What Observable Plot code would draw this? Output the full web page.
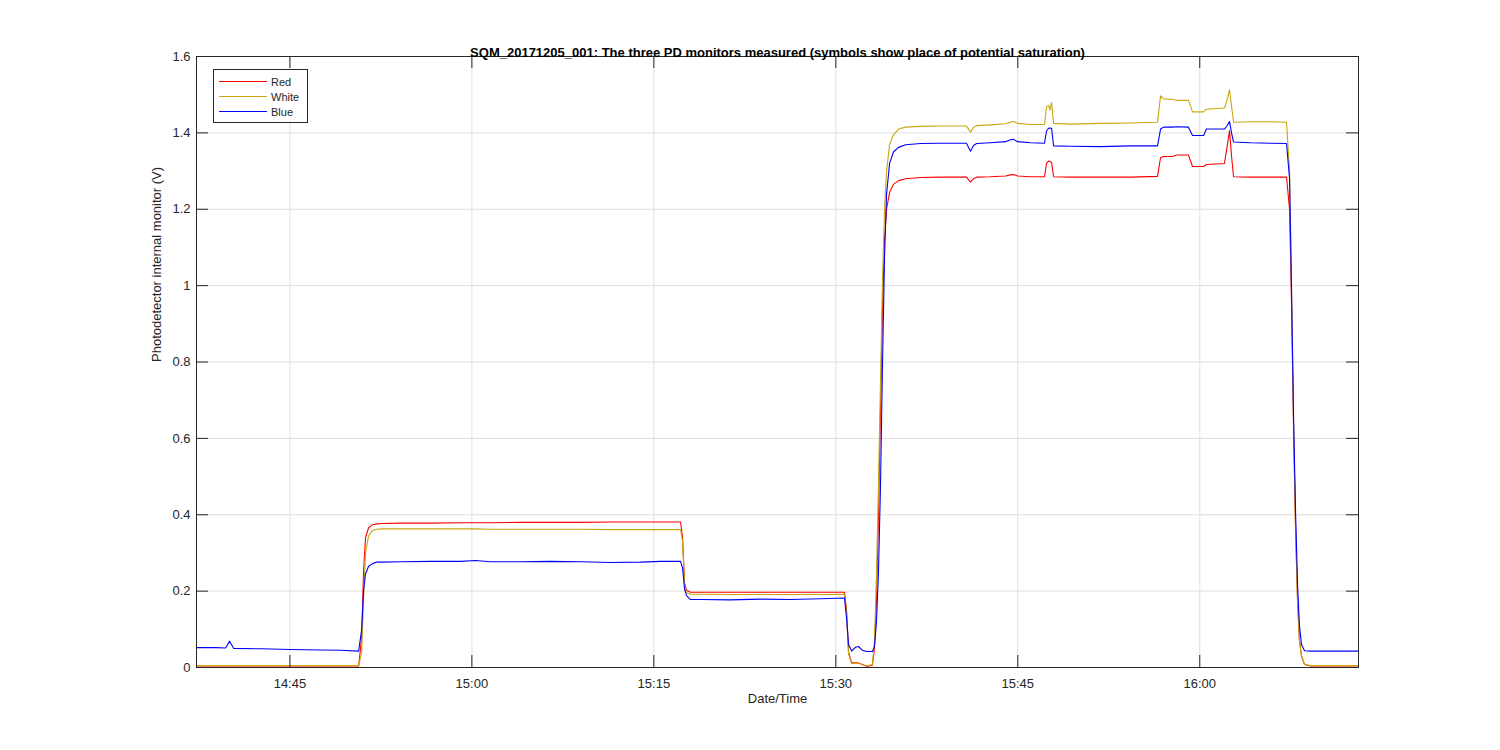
<!DOCTYPE html>
<html><head><meta charset="utf-8">
<script src="https://cdn.jsdelivr.net/npm/d3@7"></script>
<script src="https://cdn.jsdelivr.net/npm/@observablehq/plot@0.6"></script>
<style>
body{margin:0;background:#fff;}
#chart{width:1500px;height:750px;}
</style></head><body><div id="chart"></div>
<script>
const titleText = "SQM_20171205_001: The three PD monitors measured (symbols show place of potential saturation)";
const xLabel = "Date/Time";
const yLabel = "Photodetector internal monitor (V)";
const seriesNames = ["Red", "White", "Blue"];
const seriesColors = ["#ff0000", "#c9a60d", "#0000ff"];
const xTickLabels = ["14:45", "15:00", "15:15", "15:30", "15:45", "16:00"];
const yTicks = [0, 0.2, 0.4, 0.6, 0.8, 1, 1.2, 1.4, 1.6];

const times = [
 "14:37:18","14:38:53","14:39:42","14:40:02","14:40:22","14:42:35","14:45:03","14:47:32","14:49:11","14:50:40",
 "14:50:55","14:51:04","14:51:14","14:51:29","14:51:49","14:52:09","14:52:38","14:54:07","14:56:36","14:59:04",
 "15:00:18","15:01:32","15:04:01","15:06:29","15:08:58","15:11:26","15:13:54","15:15:33","15:17:12","15:17:22",
 "15:17:32","15:17:42","15:18:01","15:18:51","15:21:19","15:23:48","15:26:16","15:28:44","15:30:43","15:30:53",
 "15:31:03","15:31:18","15:31:37","15:31:52","15:32:12","15:32:32","15:33:01","15:33:11","15:33:21","15:33:31",
 "15:33:41","15:33:51","15:34:01","15:34:11","15:34:26","15:34:45","15:35:10","15:35:45","15:36:59","15:38:38",
 "15:40:46","15:41:06","15:41:21","15:41:36","15:42:45","15:43:59","15:44:24","15:44:39","15:44:59","15:46:03",
 "15:47:12","15:47:22","15:47:32","15:47:39","15:47:47","15:47:57","15:49:21","15:51:49","15:54:18","15:56:31",
 "15:56:46","15:57:01","15:57:45","15:58:05","15:59:04","15:59:24","16:00:19","16:00:33","16:02:02","16:02:17",
 "16:02:27","16:02:37","16:02:47","16:04:11","16:05:50","16:07:09","16:07:24","16:07:34","16:07:44","16:07:54",
 "16:08:04","16:08:13","16:08:23","16:08:38","16:09:08","16:13:05"
];
const red = [
 .004,.004,.004,.004,.004,.004,.004,.004,.004,.004,
 .08,.25,.34,.366,.374,.376,.377,.378,.378,.379,
 .379,.379,.380,.380,.380,.381,.381,.381,.381,.34,
 .22,.202,.197,.197,.197,.197,.197,.197,.197,.15,
 .04,.012,.012,.012,.008,.003,.006,.05,.18,.40,
 .68,.95,1.12,1.20,1.245,1.265,1.275,1.280,1.283,1.284,
 1.284,1.271,1.280,1.284,1.285,1.287,1.290,1.291,1.287,1.285,
 1.285,1.320,1.326,1.325,1.322,1.285,1.284,1.284,1.284,1.286,
 1.335,1.338,1.338,1.342,1.342,1.312,1.312,1.317,1.320,1.370,
 1.406,1.340,1.285,1.284,1.284,1.284,1.20,.95,.62,.36,
 .17,.07,.03,.008,.004,.004
];
const white = [
 .005,.005,.005,.005,.005,.005,.005,.005,.005,.005,
 .04,.18,.30,.345,.359,.362,.363,.363,.363,.363,
 .363,.362,.362,.362,.362,.361,.361,.361,.361,.33,
 .215,.196,.192,.192,.191,.191,.191,.191,.192,.14,
 .035,.01,.012,.011,.007,.004,.008,.07,.24,.48,
 .75,1.02,1.20,1.30,1.37,1.395,1.41,1.415,1.417,1.418,
 1.418,1.402,1.414,1.419,1.421,1.424,1.428,1.430,1.425,1.422,
 1.422,1.468,1.472,1.460,1.479,1.425,1.423,1.425,1.426,1.428,
 1.497,1.489,1.488,1.485,1.485,1.455,1.455,1.462,1.465,1.490,
 1.513,1.470,1.428,1.429,1.429,1.428,1.30,.99,.63,.35,
 .16,.07,.03,.008,.005,.005
];
const blue = [
 .052,.052,.051,.069,.050,.049,.047,.046,.045,.043,
 .10,.20,.245,.265,.272,.276,.276,.277,.278,.278,
 .280,.277,.277,.278,.277,.275,.276,.278,.278,.26,
 .205,.188,.178,.178,.177,.179,.178,.180,.182,.13,
 .06,.043,.053,.055,.045,.042,.042,.055,.12,.25,
 .48,.80,1.08,1.24,1.32,1.35,1.362,1.369,1.372,1.373,
 1.373,1.352,1.367,1.372,1.374,1.377,1.382,1.383,1.377,1.374,
 1.373,1.405,1.412,1.413,1.412,1.366,1.365,1.364,1.366,1.366,
 1.410,1.415,1.415,1.416,1.415,1.393,1.393,1.410,1.410,1.420,
 1.430,1.400,1.376,1.374,1.373,1.372,1.28,.98,.65,.40,
 .21,.11,.06,.044,.043,.043
];

const parse = s => { const [h, m, sec] = s.split(":").map(Number); return new Date(2017, 11, 5, h, m, sec || 0); };
const valuesBySeries = [red, white, blue];
const seriesRows = valuesBySeries.map(vals => times.map((t, i) => ({time: parse(t), value: vals[i]})));
const xTicks = xTickLabels.map(parse);

const W = 1500, H = 750, mL = 196, mR = 142, mT = 56, mB = 83;
const fw = W - mL - mR, fh = H - mT - mB;
const ink = "#262626";
const font = "'Liberation Sans', Arial, Helvetica, sans-serif";

const plot = Plot.plot({
  width: W, height: H,
  marginLeft: mL, marginRight: mR, marginTop: mT, marginBottom: mB,
  style: {fontFamily: font, background: "#fff", color: ink, overflow: "visible"},
  x: {type: "time", domain: [parse(times[0]), parse(times[times.length - 1])]},
  y: {domain: [0, 1.6]},
  marks: [
    Plot.gridX(xTicks, {stroke: "#dfdfdf", strokeOpacity: 1}),
    Plot.gridY(yTicks, {stroke: "#dfdfdf", strokeOpacity: 1}),
    ...seriesRows.map((rows, k) => Plot.line(rows, {x: "time", y: "value", stroke: seriesColors[k], strokeWidth: 1.1})),
    Plot.tickX(xTicks, {x: d => d, insetTop: fh - 12, stroke: ink}),
    Plot.tickX(xTicks, {x: d => d, insetBottom: fh - 12, stroke: ink}),
    Plot.tickY(yTicks, {y: d => d, insetRight: fw - 12, stroke: ink}),
    Plot.tickY(yTicks, {y: d => d, insetLeft: fw - 12, stroke: ink}),
    Plot.frame({stroke: ink}),
    Plot.axisX(xTicks, {tickSize: 0, tickPadding: 11, tickFormat: d3.timeFormat("%H:%M"), fontSize: 13, fill: ink, label: null}),
    Plot.axisY(yTicks, {tickSize: 0, tickPadding: 6, tickFormat: d => String(+d.toFixed(1)), fontSize: 13, fill: ink, label: null}),
    Plot.text([xLabel], {text: d => d, frameAnchor: "bottom", dy: 35, fontSize: 13, fill: ink}),
    Plot.text([yLabel], {text: d => d, frameAnchor: "left", rotate: -90, dx: -40, fontSize: 13, fill: ink}),
    Plot.text([titleText], {text: d => d, frameAnchor: "top", dy: -9, fontSize: 13, fontWeight: "bold", fill: "#000"})
  ]
});
document.getElementById("chart").appendChild(plot);

// Legend (MATLAB-style box, upper-left inside the axes)
const svg = d3.select(plot);
const lg = svg.append("g").attr("transform", `translate(${mL + 17},${mT + 13})`)
  .attr("font-family", font).attr("font-size", 11).attr("text-anchor", "start");
lg.append("rect").attr("x", 0.5).attr("y", 0.5).attr("width", 94).attr("height", 53).attr("fill", "#fff").attr("stroke", ink);
seriesNames.forEach((name, i) => {
  const y = 12.5 + 15 * i;
  lg.append("line").attr("x1", 6).attr("x2", 54).attr("y1", y).attr("y2", y).attr("stroke", seriesColors[i]).attr("stroke-width", 1);
  lg.append("text").attr("x", 58).attr("y", y + 4).attr("fill", ink).attr("stroke", "none").attr("text-anchor", "start").text(name);
});
</script></body></html>
